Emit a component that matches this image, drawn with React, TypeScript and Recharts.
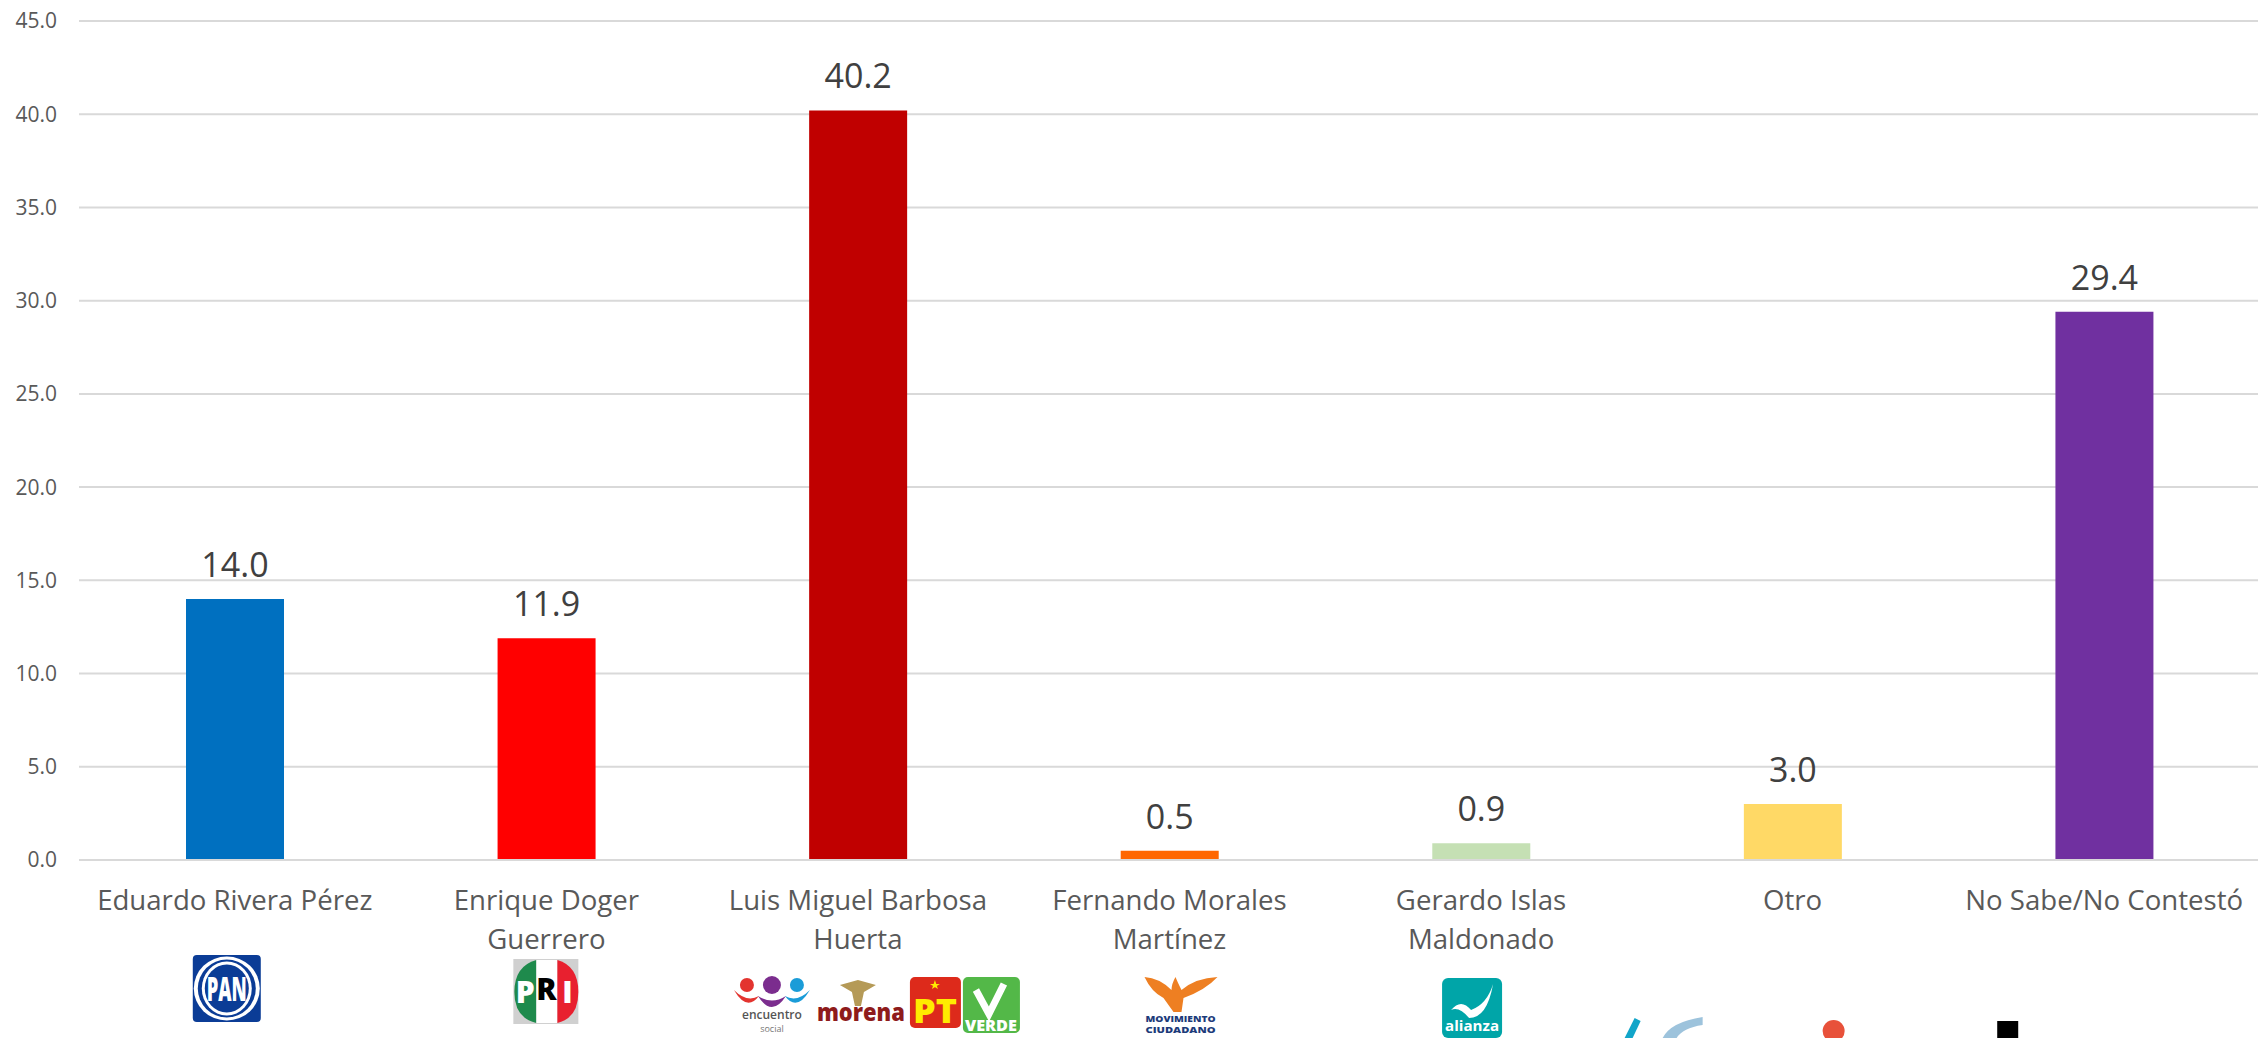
import { BarChart, Bar, XAxis, YAxis, CartesianGrid, Cell, LabelList } from 'recharts';

const candidatos = [
  ['Eduardo Rivera Pérez'],
  ['Enrique Doger', 'Guerrero'],
  ['Luis Miguel Barbosa', 'Huerta'],
  ['Fernando Morales', 'Martínez'],
  ['Gerardo Islas', 'Maldonado'],
  ['Otro'],
  ['No Sabe/No Contestó'],
];
const valores = [14.0, 11.9, 40.2, 0.5, 0.9, 3.0, 29.4];
const colores = ['#0070C0', '#FF0000', '#C00000', '#FF6600', '#C5E0B4', '#FFD966', '#7030A0'];
const ticksY = [0, 5, 10, 15, 20, 25, 30, 35, 40, 45];

const data = candidatos.map((c, i) => ({ nombre: c.join(' '), valor: valores[i] }));

const FONT = '"Open Sans", sans-serif';

function LogoPan({ x }: { x: number }) {
  return (
    <g>
      <rect x={x - 42} y={955} width={68} height={67} rx={4} fill="#0B3C96" />
      <ellipse cx={x - 8} cy={988.5} rx={33} ry={32} fill="#fff" />
      <ellipse cx={x - 8} cy={988.5} rx={29} ry={29} fill="#0B3C96" />
      <ellipse cx={x - 8} cy={988.5} rx={25} ry={27} fill="#fff" />
      <ellipse cx={x - 8} cy={988.5} rx={22} ry={24} fill="#0B3C96" />
      <text x={x - 8} y={1001} textAnchor="middle" fontFamily={FONT} fontWeight={800} fontSize={34} textLength={40} lengthAdjust="spacingAndGlyphs" fill="#fff">PAN</text>
    </g>
  );
}

function LogoPri({ x }: { x: number }) {
  return (
    <g>
      <rect x={x - 33} y={959} width={65} height={65} fill="#d0d0d0" />
      <path d={`M${x - 10} 960 Q${x - 32} 966 ${x - 32} 992 Q${x - 32} 1018 ${x - 10} 1023 Z`} fill="#1E8A4C" />
      <rect x={x - 10} y={960} width={21} height={63} fill="#fff" />
      <path d={`M${x + 11} 960 Q${x + 32} 966 ${x + 32} 992 Q${x + 32} 1018 ${x + 11} 1023 Z`} fill="#E8202F" />
      <text x={x - 21} y={1003} textAnchor="middle" fontFamily={FONT} fontWeight={800} fontSize={30} fill="#fff">P</text>
      <text x={x} y={1000} textAnchor="middle" fontFamily={FONT} fontWeight={800} fontSize={30} fill="#000">R</text>
      <text x={x + 21} y={1003} textAnchor="middle" fontFamily={FONT} fontWeight={800} fontSize={30} fill="#fff">I</text>
    </g>
  );
}

function LogosCoalicion({ x }: { x: number }) {
  return (
    <g>
      <circle cx={x - 111} cy={985} r={7} fill="#E3342F" />
      <path d={`M${x - 124} 990 Q${x - 111} 1012 ${x - 99} 996 Q${x - 111} 1003 ${x - 124} 990 Z`} fill="#E3342F" />
      <circle cx={x - 86} cy={985} r={9} fill="#7B2D8E" />
      <path d={`M${x - 100} 996 Q${x - 86} 1018 ${x - 72} 996 Q${x - 86} 1005 ${x - 100} 996 Z`} fill="#7B2D8E" />
      <circle cx={x - 61} cy={985} r={7} fill="#1A9CD8" />
      <path d={`M${x - 73} 996 Q${x - 61} 1012 ${x - 48} 990 Q${x - 61} 1003 ${x - 73} 996 Z`} fill="#1A9CD8" />
      <text x={x - 86} y={1019} textAnchor="middle" fontFamily={FONT} fontWeight={600} fontSize={12} fill="#555">encuentro</text>
      <text x={x - 86} y={1032} textAnchor="middle" fontFamily={FONT} fontSize={9} fill="#777">social</text>
      <path d={`M${x} 980 L${x - 18} 985 L${x - 6} 992 L${x - 3} 1006 L${x + 3} 1006 L${x + 6} 992 L${x + 18} 985 Z`} fill="#B59A57" />
      <text x={x + 3} y={1021} textAnchor="middle" fontFamily={FONT} fontWeight={800} fontSize={24} textLength={88} lengthAdjust="spacingAndGlyphs" fill="#8E1B1B">morena</text>
      <rect x={x + 52} y={977} width={51} height={51} rx={5} fill="#DD2A1B" />
      <text x={x + 77} y={1023} textAnchor="middle" fontFamily={FONT} fontWeight={800} fontSize={33} textLength={44} lengthAdjust="spacingAndGlyphs" fill="#FFEB00">PT</text>
      <polygon points={`${x + 77},980 ${x + 80},989 ${x + 72},984 ${x + 82},984 ${x + 74},989`} fill="#FFEB00" />
      <rect x={x + 105} y={977} width={57} height={56} rx={5} fill="#53B848" />
      <path d={`M${x + 118} 990 L${x + 131} 1014 L${x + 146} 984`} fill="none" stroke="#fff" strokeWidth={7} />
      <text x={x + 133} y={1031} textAnchor="middle" fontFamily={FONT} fontWeight={800} fontSize={15} textLength={52} lengthAdjust="spacingAndGlyphs" fill="#fff">VERDE</text>
    </g>
  );
}

function LogoMc({ x }: { x: number }) {
  return (
    <g>
      <path d={`M${x - 25} 977 Q${x - 18} 992 ${x - 6} 998 L${x + 4} 1012 L${x + 12} 1012 L${x + 14} 998 Q${x + 36} 990 ${x + 48} 977 Q${x + 26} 978 ${x + 12} 990 Q${x + 8} 982 ${x + 6} 977 Q${x + 2} 984 ${x + 2} 990 Q${x - 10} 978 ${x - 25} 977 Z`} fill="#EE7F22" />
      <text x={x + 11} y={1022} textAnchor="middle" fontFamily={FONT} fontWeight={800} fontSize={9.5} textLength={70} lengthAdjust="spacingAndGlyphs" fill="#1D3B7A">MOVIMIENTO</text>
      <text x={x + 11} y={1033} textAnchor="middle" fontFamily={FONT} fontWeight={800} fontSize={9.5} textLength={70} lengthAdjust="spacingAndGlyphs" fill="#1D3B7A">CIUDADANO</text>
    </g>
  );
}

function LogoAlianza({ x }: { x: number }) {
  return (
    <g>
      <rect x={x - 39} y={978} width={60} height={60} rx={6} fill="#00A5A8" />
      <path d={`M${x - 30} 1010 Q${x - 20} 998 ${x - 10} 1010 Q${x + 6} 1004 ${x + 12} 984 Q${x + 6} 1018 ${x - 12} 1018 Q${x - 22} 1006 ${x - 30} 1010 Z`} fill="#fff" />
      <text x={x - 9} y={1031} textAnchor="middle" fontFamily={FONT} fontWeight={700} fontSize={15} textLength={54} lengthAdjust="spacingAndGlyphs" fill="#fff">alianza</text>
    </g>
  );
}

function LogoOtro({ x }: { x: number }) {
  return (
    <g>
      <path d={`M${x - 168} 1038 L${x - 158} 1018 L${x - 152} 1021 L${x - 160} 1038 Z`} fill="#12A5C9" />
      <path d={`M${x - 130} 1038 Q${x - 122} 1022 ${x - 90} 1017 L${x - 90} 1025 Q${x - 110} 1028 ${x - 116} 1038 Z`} fill="#9DC3DC" />
      <ellipse cx={x + 41} cy={1031} rx={11} ry={11} fill="#E8513A" />
    </g>
  );
}

function LogoNoSabe({ x }: { x: number }) {
  return <rect x={x - 107} y={1021} width={21} height={17} fill="#000" />;
}

const logos = [LogoPan, LogoPri, LogosCoalicion, LogoMc, LogoAlianza, LogoOtro, LogoNoSabe];

function TickCandidato({ x, payload, index }: any) {
  const i = payload?.index ?? index;
  const Logo = logos[i];
  return (
    <g>
      <text textAnchor="middle" fontFamily={FONT} fontSize={27.6} fill="#595959">
        {candidatos[i].map((linea, n) => (
          <tspan key={n} x={x} y={910 + n * 39}>{linea}</tspan>
        ))}
      </text>
      <Logo x={x} />
    </g>
  );
}

export default function App() {
  return (
    <div style={{ position: 'absolute', left: 0, top: 0, background: '#fff' }}>
      <BarChart
        width={2258}
        height={1038}
        data={data}
        barSize={98}
        margin={{ top: 21, right: -2, left: 0, bottom: 0 }}
      >
        <CartesianGrid vertical={false} stroke="#d9d9d9" strokeWidth={2} />
        <XAxis
          dataKey="nombre"
          interval={0}
          height={178}
          tick={<TickCandidato />}
          tickLine={false}
          axisLine={{ stroke: '#d9d9d9', strokeWidth: 2 }}
        />
        <YAxis
          width={79}
          domain={[0, 45]}
          ticks={ticksY}
          tickFormatter={(v: number) => v.toFixed(1)}
          tick={{ fontSize: 21, fontFamily: FONT, fill: '#595959' }}
          tickLine={false}
          axisLine={false}
          tickMargin={16}
        />
        <Bar dataKey="valor" isAnimationActive={false}>
          {data.map((d, i) => (
            <Cell key={d.nombre} fill={colores[i]} />
          ))}
          <LabelList
            dataKey="valor"
            position="top"
            offset={22}
            formatter={(v: any) => Number(v).toFixed(1)}
            style={{ fontSize: 34, fontFamily: FONT, fill: '#404040' }}
          />
        </Bar>
      </BarChart>
    </div>
  );
}
